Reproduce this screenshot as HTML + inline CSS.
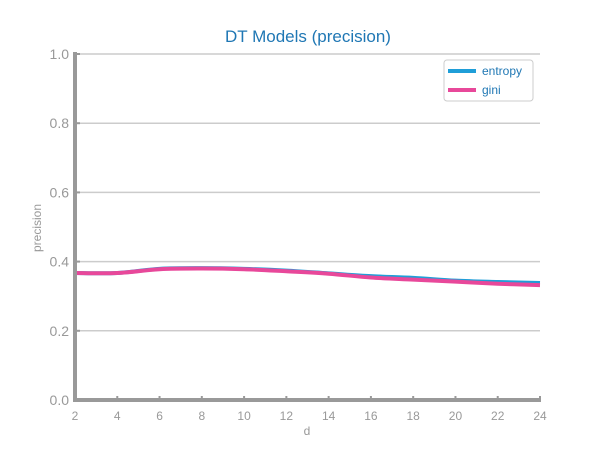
<!DOCTYPE html>
<html><head><meta charset="utf-8"><style>
body{margin:0;background:#fff;font-family:"Liberation Sans",sans-serif}
</style></head><body>
<svg id="c" width="600" height="450">
<text x="308" y="42" text-anchor="middle" font-size="17" fill="#1f77b4">DT Models (precision)</text>
<g id="grid"></g><g id="lines"></g><g id="axes"></g>
<text x="307" y="435" text-anchor="middle" font-size="12" fill="#999">d</text>
<text transform="translate(41,228) rotate(-90)" text-anchor="middle" font-size="12" fill="#999">precision</text>
<g>
<rect x="444" y="60" width="89" height="41" rx="3" fill="#fff" stroke="#ccc"/>
<line x1="448" y1="71" x2="476" y2="71" stroke="#1f9ed8" stroke-width="4"/>
<text x="482" y="75" font-size="12" fill="#1f77b4">entropy</text>
<line x1="448" y1="90" x2="476" y2="90" stroke="#e8489a" stroke-width="4"/>
<text x="482" y="94" font-size="12" fill="#1f77b4">gini</text>
</g>
</svg>
<script>
const ds=[2,4,6,8,10,12,14,16,18,20,22,24];
const entropy=[0.367,0.367,0.379,0.381,0.379,0.374,0.366,0.358,0.353,0.345,0.341,0.338];
const gini=[0.367,0.367,0.378,0.380,0.378,0.372,0.365,0.354,0.348,0.342,0.336,0.332];
const yTicks=[0,0.2,0.4,0.6,0.8,1.0];
const NS='http://www.w3.org/2000/svg';
const X=d=>75+(d-2)*(465/22), Y=v=>400-v*346;
function mk(t,a,p){const e=document.createElementNS(NS,t);for(const k in a)e.setAttribute(k,a[k]);p.appendChild(e);return e;}
const grid=document.getElementById('grid'),axes=document.getElementById('axes'),lines=document.getElementById('lines');
yTicks.forEach(v=>{
 const g=mk('line',{x1:75,x2:540,y1:Y(v),y2:Y(v),stroke:'#ccc','stroke-width':1.5},grid);
 
 
 const t=mk('text',{x:69,y:Y(v)+5,'text-anchor':'end','font-size':14,fill:'#999'},axes);
 t.textContent=v.toFixed(1);
 
 
 mk('line',{x1:75,x2:80,y1:Y(v),y2:Y(v),stroke:'#999','stroke-width':2},axes);
});
ds.forEach(d=>{
 const t=mk('text',{x:X(d),y:420,'text-anchor':'middle','font-size':12,fill:'#999'},axes);
 t.textContent=d;
 
 
 mk('line',{x1:X(d),x2:X(d),y1:396,y2:400,stroke:'#999','stroke-width':2},axes);
});
const ya=mk('line',{x1:75,x2:75,y1:52,y2:402,stroke:'#999','stroke-width':4},axes);


const xa=mk('line',{x1:73,x2:541,y1:400,y2:400,stroke:'#999','stroke-width':4},axes);


function path(vals){
 const p=ds.map((d,i)=>[X(d),Y(vals[i])]);
 let s='M'+p[0];
 for(let i=0;i<p.length-1;i++){
  const p0=p[Math.max(i-1,0)],p1=p[i],p2=p[i+1],p3=p[Math.min(i+2,p.length-1)];
  const c1=[p1[0]+(p2[0]-p0[0])/6,p1[1]+(p2[1]-p0[1])/6],c2=[p2[0]-(p3[0]-p1[0])/6,p2[1]-(p3[1]-p1[1])/6];
  s+='C'+c1+' '+c2+' '+p2;
 }
 return s;
}
const l1=mk('path',{d:path(entropy),fill:'none',stroke:'#1f9ed8','stroke-width':4},lines);


const l2=mk('path',{d:path(gini),fill:'none',stroke:'#e8489a','stroke-width':4},lines);


</script>
</body></html>
